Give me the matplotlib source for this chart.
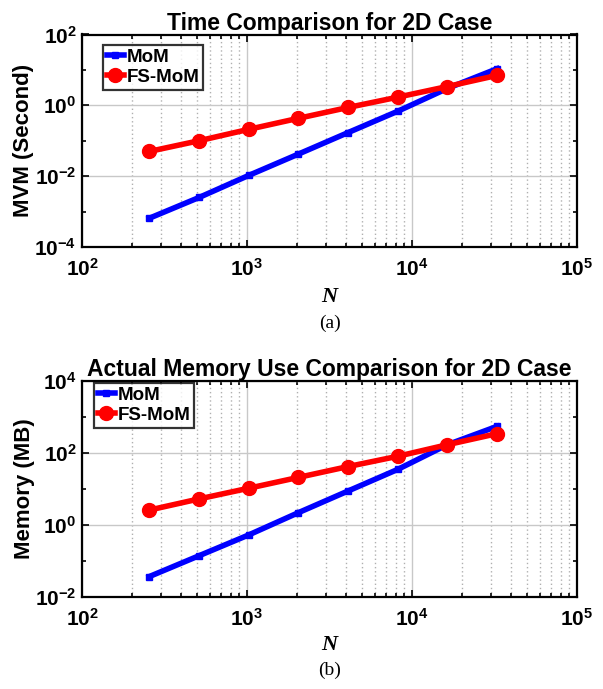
#!/usr/bin/env python3
"""Time and memory comparison of MoM vs FS-MoM for the 2D case (two log-log panels)."""

import math

import matplotlib
matplotlib.use("Agg")
import matplotlib.pyplot as plt
from matplotlib.ticker import LogLocator, NullFormatter

# ------------------------
# Data
# ------------------------

n_unknowns = [256, 512, 1024, 2048, 4096, 8192, 16384, 32768]

time_mom = [6.5e-4, 2.5e-3, 1.05e-2, 4.2e-2, 0.17, 0.68, 3.0, 10.8]
time_fsmom = [0.050, 0.10, 0.21, 0.43, 0.87, 1.7, 3.4, 7.0]

mem_mom = [0.037, 0.14, 0.53, 2.2, 8.8, 35, 170, 550]
mem_fsmom = [2.6, 5.3, 10.5, 21, 42, 81, 170, 345]

titles = ["Time Comparison for 2D Case", "Actual Memory Use Comparison for 2D Case"]
ylabels = ["MVM (Second)", "Memory (MB)"]
ylims = [(1e-4, 1e2), (1e-2, 1e4)]
captions = ["(a)", "(b)"]

plt.rcParams["font.family"] = "Liberation Sans"
plt.rcParams["font.weight"] = "bold"
plt.rcParams["mathtext.default"] = "regular"

W, H = 603, 689
fig = plt.figure(figsize=(W / 100, H / 100), dpi=100)


def px_axes(left, top, right, bottom):
    return fig.add_axes([left / W, 1 - bottom / H, (right - left) / W, (bottom - top) / H])


def draw_panel(ax, y_mom, y_fs, title, ylabel, ylim):
    ax.set_xscale("log")
    ax.set_yscale("log")

    ax.plot(n_unknowns, y_mom, color="#0000ff", linewidth=4, marker="s",
            markersize=5, label="MoM", zorder=3)
    ax.plot(n_unknowns, y_fs, color="#ff0000", linewidth=4, marker="o",
            markersize=10, label="FS-MoM", zorder=4)

    ax.set_xlim(1e2, 1e5)
    ax.set_ylim(*ylim)
    lo, hi = ylim
    ax.set_yticks([10.0 ** e for e in range(int(math.log10(lo)), int(math.log10(hi)) + 1, 2)])
    ax.yaxis.set_minor_locator(LogLocator(base=10, subs=[], numticks=10))
    ax.yaxis.set_minor_formatter(NullFormatter())
    ax.xaxis.set_minor_locator(LogLocator(base=10, subs=range(2, 10), numticks=20))
    ax.xaxis.set_minor_formatter(NullFormatter())

    ax.grid(True, which="major", color="#c8c8c8", linewidth=1.0, linestyle="-")
    ax.grid(True, which="minor", axis="x", color="#b0b0b0", linewidth=1.0,
            linestyle=(0, (1, 2)))
    ax.set_axisbelow(True)

    ax.tick_params(which="both", direction="in", top=True, right=True,
                   labelsize=15, width=1.2)
    ax.tick_params(axis="x", pad=8)
    ax.tick_params(axis="y", pad=4)
    ax.tick_params(which="major", length=5)
    ax.tick_params(which="minor", length=3)
    for lab in ax.get_xticklabels() + ax.get_yticklabels():
        lab.set_fontweight("bold")
    for sp in ax.spines.values():
        sp.set_linewidth(1.6)

    ax.set_title(title, fontsize=16.5, fontweight="bold", pad=3)
    ax.set_ylabel(ylabel, fontsize=16, fontweight="bold", labelpad=0)

    leg = ax.legend(loc="upper left", fontsize=13.5, frameon=True, fancybox=False,
                    borderpad=0.2, handlelength=0.9, handletextpad=0.15,
                    labelspacing=0.15, borderaxespad=0.0, markerscale=1.0)
    leg.get_frame().set_edgecolor("black")
    leg.get_frame().set_linewidth(1.6)
    return leg


ax1 = px_axes(82, 34.5, 577, 247)
ax2 = px_axes(82, 381, 577, 597)

leg1 = draw_panel(ax1, time_mom, time_fsmom, titles[0], ylabels[0], ylims[0])
leg2 = draw_panel(ax2, mem_mom, mem_fsmom, titles[1], ylabels[1], ylims[1])
leg1.set_bbox_to_anchor(((103 - 82) / 495, 1 - (45 - 34.5) / 212.5), transform=ax1.transAxes)
leg2.set_bbox_to_anchor(((94 - 82) / 495, 1 - (383 - 381) / 216), transform=ax2.transAxes)

serif = "Liberation Serif"
for ycap, yn, cap in [(323, 297, captions[0]), (670, 645, captions[1])]:
    fig.text(329.5 / W, 1 - yn / H, "N", family=serif, style="italic", weight="bold",
             fontsize=16, ha="center", va="center")
    fig.text(329.5 / W, 1 - ycap / H, cap, family=serif, weight="normal",
             fontsize=14, ha="center", va="center")

fig.savefig("out.png", dpi=100, facecolor="white")
